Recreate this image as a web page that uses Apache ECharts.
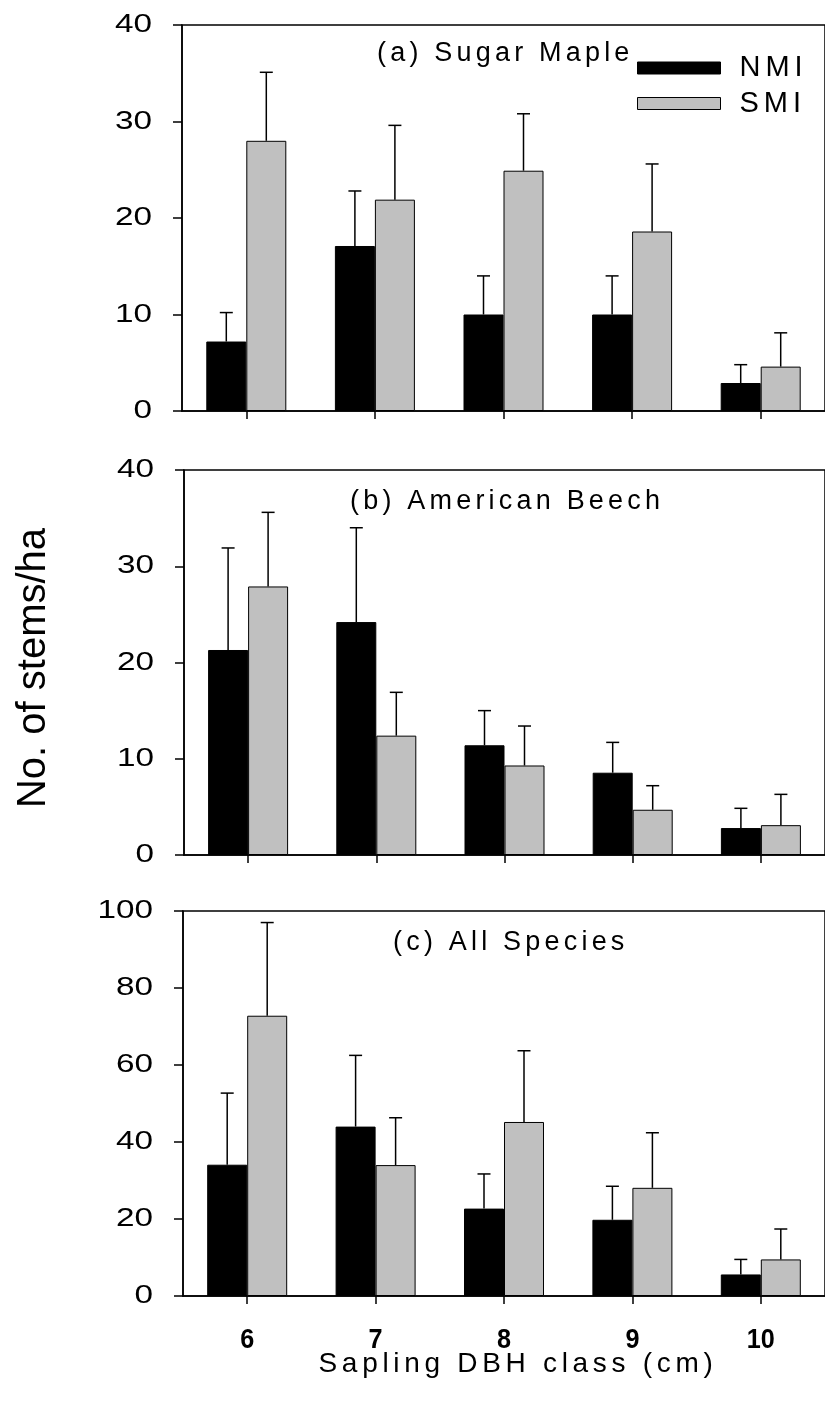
<!DOCTYPE html>
<html><head><meta charset="utf-8">
<script src="https://cdn.jsdelivr.net/npm/echarts@6/dist/echarts.min.js"></script>
<style>html,body{margin:0;padding:0;background:#fff}#c{width:825px;height:1401px}</style>
</head><body><div id="c"></div><script>
// ---------- data ----------
const categories = ['6', '7', '8', '9', '10'];
const seriesNames = ['NMI', 'SMI'];
const panelTitles = ['(a) Sugar Maple', '(b) American Beech', '(c) All Species'];
const yMax = [40, 40, 100];
const yStep = [10, 10, 20];
const xAxisTitle = 'Sapling DBH class (cm)';
const yAxisTitle = 'No. of stems/ha';

const mapleNMI = [7.2, 17.1, 10.0, 10.0, 2.9];
const mapleNMIErr = [3.0, 5.7, 4.0, 4.0, 1.9];
const mapleSMI = [28.0, 21.9, 24.9, 18.6, 4.6];
const mapleSMIErr = [7.1, 7.7, 5.9, 7.0, 3.5];

const beechNMI = [21.3, 24.2, 11.4, 8.55, 2.8];
const beechNMIErr = [10.6, 9.8, 3.6, 3.15, 2.05];
const beechSMI = [27.9, 12.4, 9.3, 4.7, 3.1];
const beechSMIErr = [7.7, 4.5, 4.1, 2.5, 3.2];

const allNMI = [34.1, 44.0, 22.7, 19.8, 5.6];
const allNMIErr = [18.6, 18.5, 9.0, 8.7, 3.9];
const allSMI = [72.8, 34.0, 45.2, 28.1, 9.5];
const allSMIErr = [24.2, 12.3, 18.5, 14.3, 7.9];

const panels = [
  [mapleNMI, mapleNMIErr, mapleSMI, mapleSMIErr],
  [beechNMI, beechNMIErr, beechSMI, beechSMIErr],
  [allNMI, allNMIErr, allSMI, allSMIErr]
];

// ---------- text styling helper (letter spacing / horizontal stretch) ----------
const TEXT_FX = [
  { re: /bold 28px/, sx: 0.9 },
  { re: /(^|\s)26px/, sx: 1.28 },
  { re: /(^|\s)27px/, ls: '4.2px' },
  { re: /(^|\s)28px/, ls: '4.7px' },
  { re: /(^|\s)29px/, ls: '5px' }
];
(function () {
  const proto = CanvasRenderingContext2D.prototype;
  const orig = proto.fillText;
  proto.fillText = function (t, x, y, m) {
    const f = this.font || '';
    let fx = null;
    for (const r of TEXT_FX) { if (r.re.test(f)) { fx = r; break; } }
    if (!fx) return orig.apply(this, arguments);
    this.save();
    if (fx.ls && ('letterSpacing' in this)) this.letterSpacing = fx.ls;
    if (fx.sx) { this.translate(x, y); this.scale(fx.sx, 1); x = 0; y = 0; }
    if (m === undefined) orig.call(this, t, x, y); else orig.call(this, t, x, y, m);
    this.restore();
  };
})();

// ---------- layout ----------
const FONT = "'Liberation Sans', Arial, sans-serif";
const grids = [
  { left: 182, top: 25, width: 650, height: 386 },
  { left: 184, top: 470, width: 650, height: 385 },
  { left: 183, top: 911, width: 650, height: 385 }
];
const BAR_W = 40;
const COLORS = ['#000000', '#c0c0c0'];

function errRender(offset) {
  return function (params, api) {
    const base = api.coord([api.value(0), api.value(1)]);
    const top = api.coord([api.value(0), api.value(2)]);
    const x = base[0] + offset;
    const half = 6.5;
    return {
      type: 'group', children: [
        { type: 'line', shape: { x1: x, y1: base[1], x2: x, y2: top[1] }, style: { stroke: '#000', lineWidth: 1.5 } },
        { type: 'line', shape: { x1: x - half, y1: top[1], x2: x + half, y2: top[1] }, style: { stroke: '#000', lineWidth: 1.5 } }
      ]
    };
  };
}

const option = {
  animation: false,
  backgroundColor: '#fff',
  grid: grids.map(g => Object.assign({ show: true, borderColor: '#000', borderWidth: 1.5, backgroundColor: 'transparent' }, g)),
  legend: {
    orient: 'vertical', left: 637, top: 53, padding: 0,
    itemWidth: 83, itemHeight: 12, itemGap: 5.5,
    textStyle: { fontSize: 29, lineHeight: 30, fontFamily: FONT, color: '#000', padding: [0, 0, 0, 14] },
    data: [
      { name: 'NMI', icon: 'rect', itemStyle: { color: COLORS[0], borderColor: '#000', borderWidth: 1 } },
      { name: 'SMI', icon: 'rect', itemStyle: { color: COLORS[1], borderColor: '#000', borderWidth: 1 } }
    ]
  },
  xAxis: grids.map((g, i) => ({
    type: 'category', gridIndex: i, data: categories, boundaryGap: true,
    axisLine: { show: true, lineStyle: { color: '#000', width: 1.5 } },
    axisTick: { show: true, alignWithLabel: true, length: 8, lineStyle: { color: '#000', width: 1.5 } },
    axisLabel: { show: i === 2, interval: 0, margin: 30, fontSize: 28, fontWeight: 'bold', fontFamily: FONT, color: '#000' },
    splitLine: { show: false }
  })),
  yAxis: grids.map((g, i) => ({
    type: 'value', gridIndex: i, min: 0, max: yMax[i], interval: yStep[i],
    axisLine: { show: true, lineStyle: { color: '#000', width: 1.5 } },
    axisTick: { show: true, inside: false, length: 9, lineStyle: { color: '#000', width: 1.5 } },
    axisLabel: { margin: 30, fontSize: 26, fontFamily: FONT, color: '#000' },
    splitLine: { show: false }
  })),
  series: [],
  graphic: [
    { type: 'text', x: 377, y: 54, style: { text: panelTitles[0], fontSize: 27, fontFamily: FONT, fill: '#000', align: 'left', verticalAlign: 'middle' } },
    { type: 'text', x: 350, y: 502, style: { text: panelTitles[1], fontSize: 27, fontFamily: FONT, fill: '#000', align: 'left', verticalAlign: 'middle' } },
    { type: 'text', x: 393, y: 943, style: { text: panelTitles[2], fontSize: 27, fontFamily: FONT, fill: '#000', align: 'left', verticalAlign: 'middle' } },
    { type: 'text', x: 518, y: 1364, style: { text: xAxisTitle, fontSize: 28, fontFamily: FONT, fill: '#000', align: 'center', verticalAlign: 'middle' } },
    { type: 'text', x: 34, y: 668, rotation: Math.PI / 2, style: { text: yAxisTitle, fontSize: 40, fontFamily: FONT, fill: '#000', align: 'center', verticalAlign: 'middle' } }
  ]
};

panels.forEach((p, i) => {
  const [nmi, nmiErr, smi, smiErr] = p;
  option.series.push(
    { name: seriesNames[0], type: 'bar', xAxisIndex: i, yAxisIndex: i, data: nmi, barWidth: BAR_W, barGap: '0%',
      itemStyle: { color: COLORS[0], borderColor: '#000', borderWidth: 1 } },
    { name: seriesNames[1], type: 'bar', xAxisIndex: i, yAxisIndex: i, data: smi, barWidth: BAR_W, barGap: '0%',
      itemStyle: { color: COLORS[1], borderColor: '#000', borderWidth: 1 } },
    { type: 'custom', xAxisIndex: i, yAxisIndex: i, z: 5, renderItem: errRender(-BAR_W / 2),
      encode: { x: 0, y: [1, 2] }, data: nmi.map((v, k) => [k, v, v + nmiErr[k]]) },
    { type: 'custom', xAxisIndex: i, yAxisIndex: i, z: 5, renderItem: errRender(BAR_W / 2),
      encode: { x: 0, y: [1, 2] }, data: smi.map((v, k) => [k, v, v + smiErr[k]]) }
  );
});

const chart = echarts.init(document.getElementById('c'), null, { renderer: 'canvas', devicePixelRatio: 1 });
chart.setOption(option);
</script></body></html>
